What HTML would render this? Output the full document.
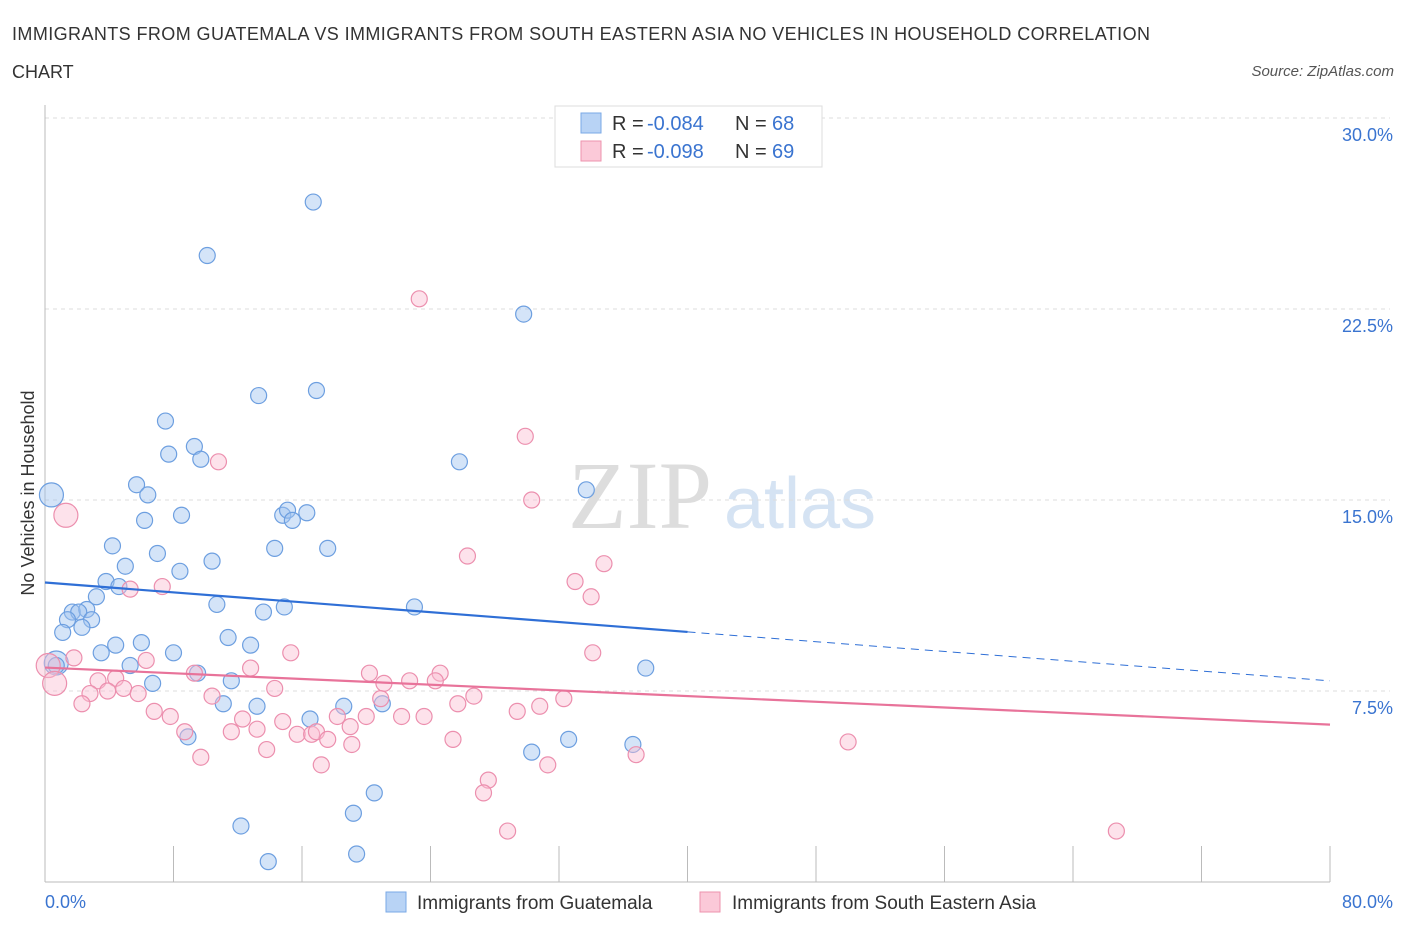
<!DOCTYPE html>
<html><head><meta charset="utf-8"><style>
body{margin:0;background:#fff;font-family:"Liberation Sans",sans-serif;}
svg{display:block}
</style></head><body>
<svg id="c" width="1406" height="930">
<text x="12" y="40" font-size="18" fill="#333" textLength="1138" lengthAdjust="spacing">IMMIGRANTS FROM GUATEMALA VS IMMIGRANTS FROM SOUTH EASTERN ASIA NO VEHICLES IN HOUSEHOLD CORRELATION</text>
<text x="12" y="78" font-size="18" fill="#333">CHART</text>
<text x="1394" y="76" font-size="15" fill="#555" font-style="italic" text-anchor="end">Source: ZipAtlas.com</text>
<text x="640" y="528" font-size="96" fill="#ddd" font-family="Liberation Serif" text-anchor="middle">ZIP</text>
<text x="800" y="528" font-size="72" fill="#d5e3f3" text-anchor="middle">atlas</text>
<text transform="translate(34,493) rotate(-90)" font-size="18" fill="#333" text-anchor="middle">No Vehicles in Household</text>
<g id="grid"></g><g id="marks"></g>
<g>
<rect x="555" y="106" width="267" height="61" fill="#fff" stroke="#ddd"/>
<rect x="581" y="113" width="20" height="20" fill="#b8d3f5" stroke="#7aa8e6"/>
<text x="612" y="130" font-size="20" fill="#333">R =</text>
<text x="647" y="130" font-size="20" fill="#3a74d0">-0.084</text>
<text x="735" y="130" font-size="20" fill="#333">N =</text>
<text x="772" y="130" font-size="20" fill="#3a74d0">68</text>
<rect x="581" y="141" width="20" height="20" fill="#fbc9d8" stroke="#ee93ae"/>
<text x="612" y="158" font-size="20" fill="#333">R =</text>
<text x="647" y="158" font-size="20" fill="#3a74d0">-0.098</text>
<text x="735" y="158" font-size="20" fill="#333">N =</text>
<text x="772" y="158" font-size="20" fill="#3a74d0">69</text>
</g>
<g>
<rect x="386" y="892" width="20" height="20" fill="#b8d3f5" stroke="#7aa8e6"/>
<text x="417" y="909" font-size="19" fill="#333">Immigrants from Guatemala</text>
<rect x="700" y="892" width="20" height="20" fill="#fbc9d8" stroke="#ee93ae"/>
<text x="732" y="909" font-size="19" fill="#333">Immigrants from South Eastern Asia</text>
</g>
</svg>
<script>
const yTicks=[7.5,15,22.5,30];
const xTickLabels=["0.0%","80.0%"];
const blueX=[0.4,0.7,16.7,10.1,29.8,16.9,13.3,7.5,9.3,7.7,9.7,25.8,5.7,6.4,33.7,6.2,8.5,14.8,15.1,16.3,15.4,4.2,7.0,14.3,17.6,10.4,5.0,8.4,3.8,4.6,3.2,10.7,13.6,14.9,23.0,1.7,2.6,2.1,1.4,2.9,2.3,1.1,11.4,6.0,4.4,12.8,3.5,8.0,5.3,9.5,37.4,6.7,11.6,11.1,13.2,18.6,21.0,16.5,8.9,32.6,36.6,30.3,20.5,19.2,12.2,13.9,19.4,0.7];
const blueY=[15.2,8.6,26.7,24.6,22.3,19.3,19.1,18.1,17.1,16.8,16.6,16.5,15.6,15.2,15.4,14.2,14.4,14.4,14.6,14.5,14.2,13.2,12.9,13.1,13.1,12.6,12.4,12.2,11.8,11.6,11.2,10.9,10.6,10.8,10.8,10.6,10.7,10.6,10.3,10.3,10.0,9.8,9.6,9.4,9.3,9.3,9.0,9.0,8.5,8.2,8.4,7.8,7.9,7.0,6.9,6.9,7.0,6.4,5.7,5.6,5.4,5.1,3.5,2.7,2.2,0.8,1.1,8.5];
const pinkX=[0.2,0.6,1.3,23.3,29.9,10.8,30.3,26.3,34.8,33.0,34.0,7.3,5.3,15.3,34.1,6.3,1.8,12.8,9.3,20.2,24.6,4.4,3.3,21.1,24.3,22.7,4.9,2.8,3.9,5.8,14.3,10.4,20.9,26.7,32.3,2.3,6.8,7.8,25.7,30.8,29.4,20.0,18.2,22.2,23.6,12.3,8.7,11.6,13.2,14.8,15.7,16.6,16.9,19.0,17.6,25.4,19.1,13.8,9.7,36.8,50.0,17.2,31.3,27.6,27.3,28.8,66.7];
const pinkY=[8.5,7.8,14.4,22.9,17.5,16.5,15.0,12.8,12.5,11.8,11.2,11.6,11.5,9.0,9.0,8.7,8.8,8.4,8.2,8.2,8.2,8.0,7.9,7.8,7.9,7.9,7.6,7.4,7.5,7.4,7.6,7.3,7.2,7.3,7.2,7.0,6.7,6.5,7.0,6.9,6.7,6.5,6.5,6.5,6.5,6.4,5.9,5.9,6.0,6.3,5.8,5.8,5.9,6.1,5.6,5.6,5.4,5.2,4.9,5.0,5.5,4.6,4.6,4.0,3.5,2.0,2.0];
const bigBlue=[0,1],bigPink=[0,1,2];
const blueTrend=[11.76,9.82,7.9],pinkTrend=[8.42,6.18];
const X0=45,X1=1330,Y0=882,Ytop=118;
const sx=v=>X0+(v/80)*(X1-X0);
const sy=v=>Y0-(v/30)*(Y0-Ytop);
const NS="http://www.w3.org/2000/svg";
function mk(t,a,p){const e=document.createElementNS(NS,t);for(const k in a)e.setAttribute(k,a[k]);p.appendChild(e);return e;}
const g=document.getElementById('grid'),m=document.getElementById('marks');
yTicks.forEach(t=>{
const l=mk('line',{x1:X0,x2:1390,y1:sy(t),y2:sy(t),stroke:'#ddd','stroke-dasharray':'4,4'},g);


const tx=mk('text',{x:1393,y:sy(t)+23,'font-size':18,fill:'#3a74d0','text-anchor':'end'},g);
tx.textContent=t.toFixed(1)+'%';


});
mk('line',{x1:X0,x2:X0,y1:105,y2:Y0,stroke:'#bbb'},g);
mk('line',{x1:X0,x2:X1,y1:Y0,y2:Y0,stroke:'#bbb'},g);
for(let i=0;i<=10;i++){const t=mk('line',{x1:sx(i*8),x2:sx(i*8),y1:Y0,y2:Y0-36,stroke:'#bbb'},g);

}
const xl0=mk('text',{x:45,y:908,'font-size':18,fill:'#3a74d0'},g);xl0.textContent=xTickLabels[0];


const xl1=mk('text',{x:1393,y:908,'font-size':18,fill:'#3a74d0','text-anchor':'end'},g);xl1.textContent=xTickLabels[1];


blueX.forEach((x,i)=>{const c=mk('circle',{cx:sx(x),cy:sy(blueY[i]),r:bigBlue.includes(i)?12:8,fill:'rgba(160,195,240,0.45)',stroke:'#6d9fe0','stroke-width':1.2},m);

});
pinkX.forEach((x,i)=>{const c=mk('circle',{cx:sx(x),cy:sy(pinkY[i]),r:bigPink.includes(i)?12:8,fill:'rgba(250,190,210,0.45)',stroke:'#ec8fae','stroke-width':1.2},m);

});
const bt=mk('line',{x1:sx(0),y1:sy(blueTrend[0]),x2:sx(40),y2:sy(blueTrend[1]),stroke:'#2f6fd6','stroke-width':2.2},m);


const bd=mk('line',{x1:sx(40),y1:sy(blueTrend[1]),x2:sx(80),y2:sy(blueTrend[2]),stroke:'#2f6fd6','stroke-width':1,'stroke-dasharray':'8,6'},m);


const pt=mk('line',{x1:sx(0),y1:sy(pinkTrend[0]),x2:sx(80),y2:sy(pinkTrend[1]),stroke:'#e8739a','stroke-width':2.2},m);


</script>
</body></html>
